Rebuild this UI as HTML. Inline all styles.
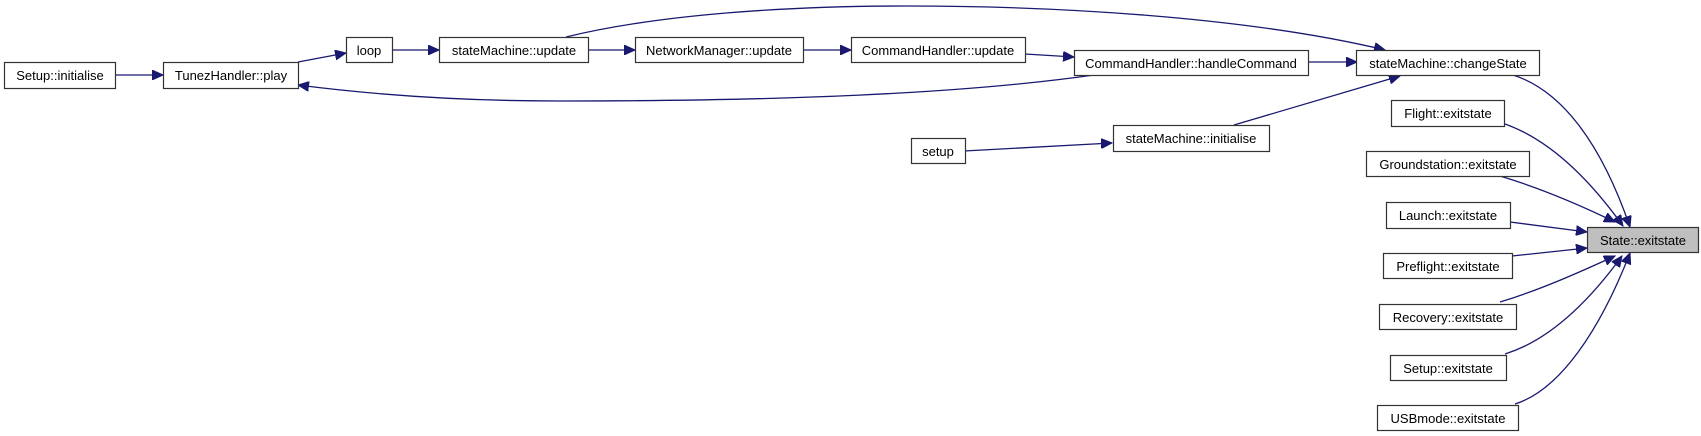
<!DOCTYPE html>
<html><head><meta charset="utf-8"><style>
html,body{margin:0;padding:0;background:#fff;}
svg{display:block}
text{font-family:"Liberation Sans",Arial,sans-serif;font-size:13px;fill:#000}
</style></head><body>
<svg width="1701" height="436" viewBox="0 0 1701 436" xmlns="http://www.w3.org/2000/svg">
<defs>
<marker id="a" markerUnits="userSpaceOnUse" markerWidth="12" markerHeight="10" refX="11" refY="5" orient="auto">
<path d="M0,0 L11,5 L0,10 Z" fill="#191970" stroke="#191970"/>
</marker>
</defs>
<g fill="none" stroke="#191970" stroke-width="1.3">
<path d="M115,75 L163,75" marker-end="url(#a)"/>
<path d="M298,62 L346,53" marker-end="url(#a)"/>
<path d="M392,50 L439,50" marker-end="url(#a)"/>
<path d="M588,50 L635,50" marker-end="url(#a)"/>
<path d="M803,50 L851,50" marker-end="url(#a)"/>
<path d="M1025,54 L1074,57" marker-end="url(#a)"/>
<path d="M1308,62 L1357,62" marker-end="url(#a)"/>
<path d="M566,37 C660,14 790,6 906,6 C1080,6 1260,20 1385,50" marker-end="url(#a)"/>
<path d="M1094,75 C960,94 780,101 560,101 C450,101 360,93 298,85" marker-end="url(#a)"/>
<path d="M1234,125 L1400,76" marker-end="url(#a)"/>
<path d="M964,151 L1112,143" marker-end="url(#a)"/>
<path d="M1513,75 C1560,90 1600,140 1630,227" marker-end="url(#a)"/>
<path d="M1505,124 C1550,140 1590,180 1623,226" marker-end="url(#a)"/>
<path d="M1500,176 C1540,188 1580,205 1615,222" marker-end="url(#a)"/>
<path d="M1510,222 L1587,232" marker-end="url(#a)"/>
<path d="M1512,256 L1587,248" marker-end="url(#a)"/>
<path d="M1500,302 C1540,290 1580,272 1615,256" marker-end="url(#a)"/>
<path d="M1505,354 C1550,340 1590,300 1622,256" marker-end="url(#a)"/>
<path d="M1515,404 C1560,390 1600,330 1630,253" marker-end="url(#a)"/>
</g>
<g stroke="#333" stroke-width="1.2" fill="#fff">
<rect x="4.5" y="62.5" width="111" height="26"/>
<rect x="163.5" y="62.5" width="135" height="26"/>
<rect x="346.5" y="37.5" width="46" height="25"/>
<rect x="439.5" y="37.5" width="149" height="25"/>
<rect x="635.5" y="37.5" width="168" height="25"/>
<rect x="851.5" y="37.5" width="174" height="25"/>
<rect x="1074.5" y="50.5" width="234" height="25"/>
<rect x="911.5" y="138.5" width="54" height="25"/>
<rect x="1113.5" y="125.5" width="156" height="26"/>
<rect x="1356.5" y="50.5" width="183" height="25"/>
<rect x="1391.5" y="100.5" width="113" height="26"/>
<rect x="1366.5" y="151.5" width="163" height="25"/>
<rect x="1386.5" y="202.5" width="124" height="26"/>
<rect x="1383.5" y="253.5" width="129" height="25"/>
<rect x="1379.5" y="304.5" width="137" height="25"/>
<rect x="1390.5" y="355.5" width="116" height="25"/>
<rect x="1377.5" y="405.5" width="141" height="25"/>
<rect x="1587.5" y="227.5" width="111" height="25" fill="#bfbfbf"/>
</g>
<g text-anchor="middle">
<text x="60" y="80">Setup::initialise</text>
<text x="231" y="80">TunezHandler::play</text>
<text x="369" y="55">loop</text>
<text x="514" y="55">stateMachine::update</text>
<text x="719" y="55">NetworkManager::update</text>
<text x="938" y="55">CommandHandler::update</text>
<text x="1191" y="68">CommandHandler::handleCommand</text>
<text x="938" y="156">setup</text>
<text x="1191" y="143">stateMachine::initialise</text>
<text x="1448" y="68">stateMachine::changeState</text>
<text x="1448" y="118">Flight::exitstate</text>
<text x="1448" y="169">Groundstation::exitstate</text>
<text x="1448" y="220">Launch::exitstate</text>
<text x="1448" y="271">Preflight::exitstate</text>
<text x="1448" y="322">Recovery::exitstate</text>
<text x="1448" y="373">Setup::exitstate</text>
<text x="1448" y="423">USBmode::exitstate</text>
<text x="1643" y="245">State::exitstate</text>
</g>
</svg>
</body></html>
